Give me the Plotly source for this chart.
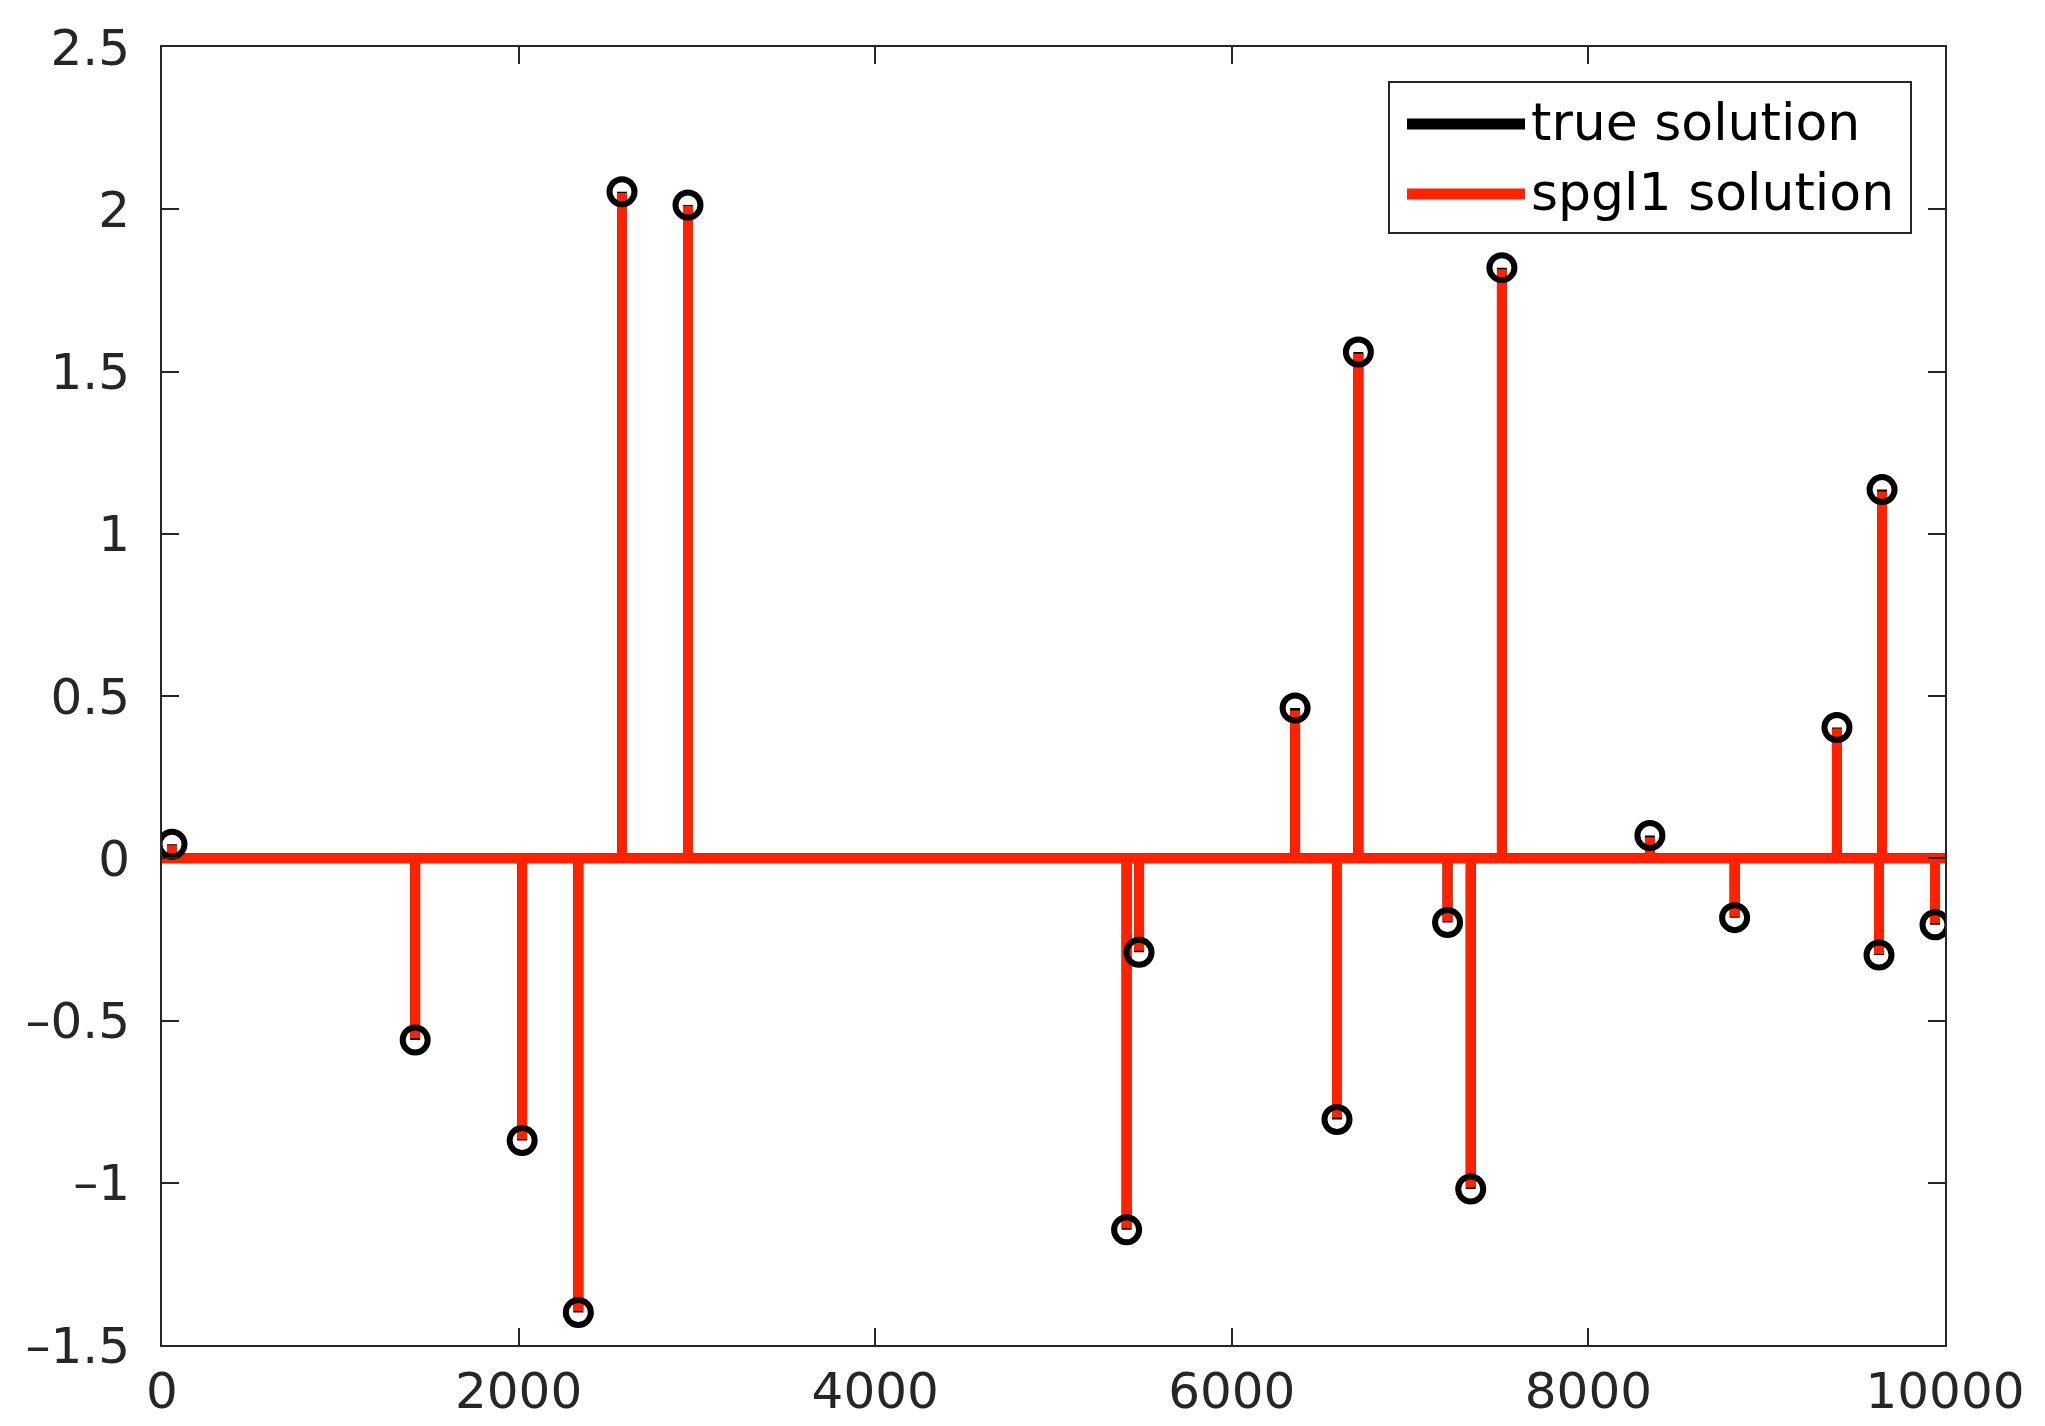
import plotly.graph_objects as go

# ---- data ----
n_samples = 10000
spike_idx = [56, 1420, 2020, 2335, 2580, 2950, 5410, 5480, 6355, 6590, 6710,
             7210, 7340, 7515, 8345, 8820, 9394, 9630, 9647, 9944]
true_vals = [0.043, -0.56, -0.87, -1.40, 2.054, 2.013, -1.145, -0.29, 0.463, -0.805, 1.56,
             -0.198, -1.019, 1.82, 0.07, -0.183, 0.403, -0.298, 1.136, -0.205]
spgl1_vals = [0.040, -0.555, -0.865, -1.395, 2.05, 2.01, -1.14, -0.285, 0.455, -0.80, 1.555,
              -0.195, -1.015, 1.815, 0.065, -0.18, 0.40, -0.295, 1.13, -0.20]
x_ticks = [0, 2000, 4000, 6000, 8000, 10000]
y_ticks = [-1.5, -1, -0.5, 0, 0.5, 1, 1.5, 2, 2.5]
legend_labels = ["true solution", "spgl1 solution"]


def stem_path(idx, vals, n):
    xs, ys = [0], [0]
    for i, v in zip(idx, vals):
        xs += [i, i, i]
        ys += [0, v, 0]
    xs.append(n)
    ys.append(0)
    return xs, ys


RED = "#ff2200"
AX = "#262626"

fig = go.Figure()
tx, ty = stem_path(spike_idx, true_vals, n_samples)
sx, sy = stem_path(spike_idx, spgl1_vals, n_samples)
fig.add_trace(go.Scatter(x=tx, y=ty, mode="lines", name=legend_labels[0],
                         line=dict(color="black", width=10), showlegend=False))
fig.add_trace(go.Scatter(x=sx, y=sy, mode="lines", name=legend_labels[1],
                         line=dict(color=RED, width=10), showlegend=False))
fig.add_trace(go.Scatter(x=spike_idx, y=true_vals, mode="markers", showlegend=False,
                         marker=dict(symbol="circle-open", size=25, color="black",
                                     line=dict(color="black", width=6))))

axis_common = dict(showgrid=False, zeroline=False, showline=True, linecolor=AX, linewidth=2,
                   mirror="ticks", ticks="inside", ticklen=17, tickwidth=2, tickcolor=AX,
                   automargin=False,
                   tickfont=dict(family="DejaVu Sans", size=50, color=AX))
fig.update_xaxes(range=[0, n_samples], tickvals=x_ticks, ticktext=[str(v) for v in x_ticks],
                 ticklabelstandoff=1, **axis_common)
fig.update_yaxes(range=[-1.5, 2.5], tickvals=y_ticks,
                 ticktext=[("\u2013" + f"{abs(v):g}") if v < 0 else f"{v:g}" for v in y_ticks],
                 ticklabelstandoff=20, **axis_common)

# ---- manual legend (MATLAB style) ----
L, R, T, B = 162, 1945, 47, 1345
W, H = R - L, B - T


def px(x):
    return (x - L) / W


def py(y):
    return (B - y) / H


fig.add_shape(type="rect", xref="paper", yref="paper", x0=px(1389), x1=px(1911),
              y0=py(233), y1=py(82), line=dict(color=AX, width=2), fillcolor="white", layer="above")
for k, (lab, col) in enumerate(zip(legend_labels, ["black", RED])):
    yy = 124 + 70 * k
    fig.add_shape(type="line", xref="paper", yref="paper", x0=px(1407), x1=px(1525),
                  y0=py(yy), y1=py(yy), line=dict(color=col, width=11), layer="above")
    fig.add_annotation(xref="paper", yref="paper", x=px(1529), y=py(yy - 2), text=lab,
                       showarrow=False, xanchor="left", yanchor="middle",
                       font=dict(family="DejaVu Sans", size=52, color="black"))

fig.update_layout(width=2045, height=1426, margin=dict(l=L, r=2045 - R, t=T, b=1426 - B),
                  paper_bgcolor="white", plot_bgcolor="white", showlegend=False)

fig.write_html("out.html")
